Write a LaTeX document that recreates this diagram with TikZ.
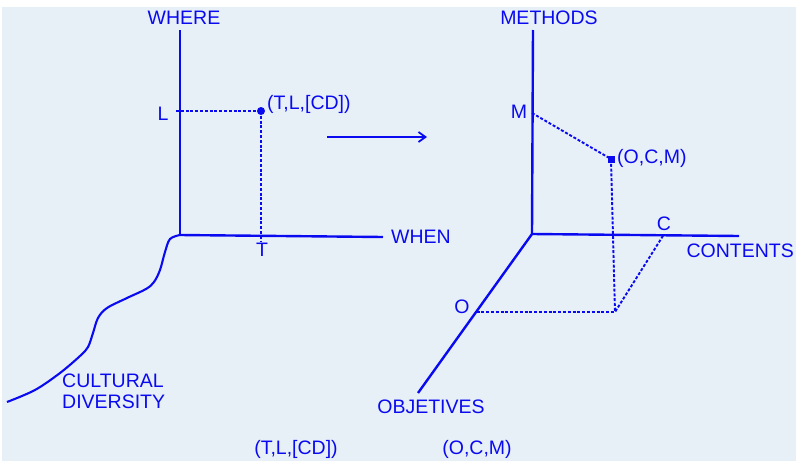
\documentclass[tikz,border=0pt]{standalone}
\usepackage{fontspec}
\setmainfont{Liberation Sans}
\usetikzlibrary{arrows.meta,positioning}
\definecolor{ink}{HTML}{0A0AF0}
\definecolor{paper}{HTML}{E8F0F7}

\begin{document}
\begin{tikzpicture}[x=1pt,y=-1pt,
 every node/.style={font=\fontsize{19.5}{21}\selectfont,text=ink,inner sep=0pt},
 axis/.style={draw=ink,line width=2.4pt},
 proj/.style={draw=ink,line width=1.9pt,dash pattern=on 3pt off 1.8pt},
 dot/.style={circle,fill=ink,minimum size=8pt},
 sqdot/.style={rectangle,fill=ink,minimum size=7pt},
 flow/.style={-{Straight Barb[length=7pt,width=10pt]},draw=ink,line width=1.8pt}
]
\useasboundingbox (0,0) rectangle (796,461);
\fill[white] (0,0) rectangle (796,461);
\fill[paper] (2,7) rectangle (796,461);

% left: when / where
\coordinate (o1) at (180,235);
\coordinate (where) at (180,30);
\coordinate (when) at (383,237);
\coordinate (lpos) at (176,111);
\coordinate (tpos) at (261,241);
\node[dot] (tl) at (261,111) {};
\draw[axis] (o1)--(where); \draw[axis] (o1)--(when);
\draw[proj] (lpos)--(tl.center); \draw[proj] (tl.center)--(tpos);
\draw[axis,line width=2.1pt] (o1) plot[smooth,tension=0.55] coordinates {(180,235) (170,239) (165,252) (160,270) (154,282) (146,289) (127,298) (107,308) (98,318) (93,333) (88,347) (80,356) (60,373) (35,390) (7,402)};

\node (wherel) at (184,18) {WHERE};
\node (whenl) at (421,237) {WHEN};
\node (ll) at (163,114) {L};
\node (tl_) at (262,250) {T};
\node[anchor=west] (tll) at (267,104) {(T,L,[CD])};
\node[anchor=west,align=left,font=\fontsize{19.5}{21}\selectfont] (cd) at (62,391) {CULTURAL\\DIVERSITY};

% arrow between
\coordinate (af) at (327,137);
\coordinate (at_) at (427,137);
\draw[flow] (af)--(at_);

% right: objectives / contents / methods
\coordinate (o2) at (532,234);
\coordinate (methods) at (533,30);
\coordinate (contents) at (739,236);
\coordinate (objet) at (418,393);
\coordinate (mpos) at (532,113);
\coordinate (opos) at (476.5,312);
\coordinate (cpos) at (663,235.8);
\coordinate (floor) at (615,312);
\node[sqdot] (ocm) at (611,159) {};
\draw[axis] (o2)--(methods); \draw[axis] (o2)--(contents); \draw[axis] (o2)--(objet);
\draw[proj] (mpos)--(ocm.center); \draw[proj] (ocm.center)--(floor);
\draw[proj] (opos)--(floor); \draw[proj] (cpos)--(floor);

\node (methodsl) at (549,18) {METHODS};
\node[anchor=east] (contentsl) at (794,251) {CONTENTS};
\node (objetl) at (431,407) {OBJETIVES};
\node (ml) at (519,112) {M};
\node (ol) at (462,307) {O};
\node (cl) at (664,224) {C};
\node[anchor=west] (ocml) at (617,158) {(O,C,M)};

% bottom
\node (tlb) at (296,449) {(T,L,[CD])};
\node (ocmb) at (477,449) {(O,C,M)};
\end{tikzpicture}
\end{document}
